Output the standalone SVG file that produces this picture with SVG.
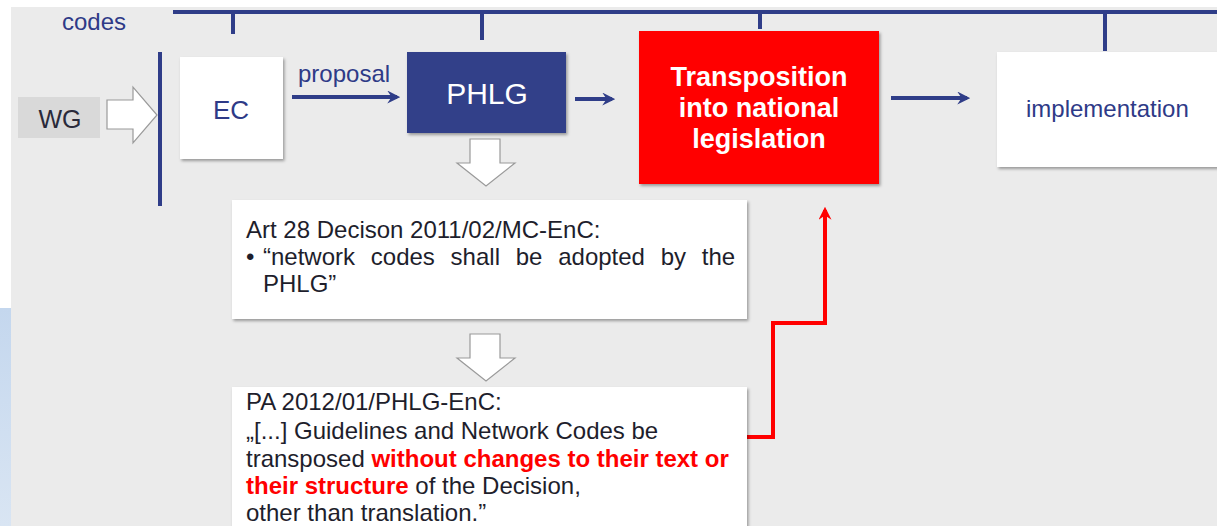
<svg xmlns="http://www.w3.org/2000/svg" width="1217" height="526" viewBox="0 0 1217 526">
<style>
text{font-family:"Liberation Sans",Arial,sans-serif}
.navy{fill:#2e3a87}
.dark{fill:#1e1e2c}
.box{fill:#ffffff;filter:url(#sh)}
.ln{stroke:#2f3d88;stroke-width:4;fill:none}
.blk{fill:#ffffff;stroke:#9a9a9a;stroke-width:1.2}
.red{fill:#ff0000;font-weight:bold}
.tw{fill:#ffffff;font-weight:bold;font-size:27px}
</style>
<defs>
<filter id="sh" x="-5%" y="-5%" width="115%" height="120%">
<feDropShadow dx="1.5" dy="2" stdDeviation="1.5" flood-color="#000" flood-opacity="0.35"/>
</filter>
<linearGradient id="lb" x1="0" y1="0" x2="0" y2="1">
<stop offset="0" stop-color="#c4d7ee"/>
<stop offset="1" stop-color="#d9e5f3"/>
</linearGradient>
<marker id="ah" viewBox="0 0 12 12" refX="9" refY="6" markerWidth="13" markerHeight="13" markerUnits="userSpaceOnUse" orient="auto">
<path d="M0,0 L12,6 L0,12 L4,6 z" fill="#2f3d88"/>
</marker>
<marker id="ahr" viewBox="0 0 12 12" refX="9" refY="6" markerWidth="13" markerHeight="13" markerUnits="userSpaceOnUse" orient="auto">
<path d="M0,0 L12,6 L0,12 L4,6 z" fill="#ff0000"/>
</marker>
</defs>
<rect x="0" y="0" width="1217" height="526" fill="#ffffff"/>
<rect x="0" y="308" width="11" height="218" fill="url(#lb)"/>
<rect x="11" y="7" width="1206" height="519" fill="#ebebeb"/>

<g id="timeline">
<path class="ln" d="M173,12 H1217" stroke-width="3"/>
<path class="ln" d="M233,12 V34 M482,12 V40 M760,12 V29 M1105,12 V51" stroke-width="3"/>
<text x="62" y="30" font-size="24" class="navy">codes</text>
</g>

<g id="connectors">
<path class="ln" d="M160,52 V206"/>
<path class="blk" d="M107,100 H133 V87 L157,115 L133,143 V129 H107 z"/>
<path class="ln" d="M292,97 H397" marker-end="url(#ah)"/>
<text x="298" y="82" font-size="24" class="navy">proposal</text>
<path class="ln" d="M575,99 H612" marker-end="url(#ah)"/>
<path class="ln" d="M891,98 H967" marker-end="url(#ah)"/>
<path class="blk" d="M470,139 H500 V163 H515 L486,186 L457,163 H470 z"/>
<path class="blk" d="M470,334 H500 V358 H515 L486,381 L457,358 H470 z"/>
<path d="M747,437 H773 V323 H825 V210" fill="none" stroke="#ff0000" stroke-width="4" marker-end="url(#ahr)"/>
</g>

<g id="wg">
<rect x="18" y="97" width="82" height="41" fill="#d9d9d9"/>
<text x="60" y="128" font-size="25" text-anchor="middle" fill="#2a2a3a">WG</text>
</g>

<g id="ec">
<rect class="box" x="180" y="57" width="103" height="102"/>
<text x="231" y="119" font-size="26" text-anchor="middle" class="navy">EC</text>
</g>

<g id="phlg">
<rect x="407" y="52" width="159" height="81" fill="#334189" filter="url(#sh)"/>
<text x="487" y="104" font-size="30" text-anchor="middle" fill="#ffffff">PHLG</text>
</g>

<g id="transposition">
<rect x="639" y="31" width="240" height="153" fill="#ff0000" filter="url(#sh)"/>
<text x="759" y="86" class="tw" text-anchor="middle">Transposition</text>
<text x="759" y="117" class="tw" text-anchor="middle">into national</text>
<text x="759" y="148" class="tw" text-anchor="middle">legislation</text>
</g>

<g id="implementation">
<rect class="box" x="997" y="52" width="230" height="115"/>
<text x="1026" y="117" font-size="24" class="navy">implementation</text>
</g>

<g id="art28">
<rect class="box" x="232" y="200" width="515" height="119"/>
<text x="246" y="238" font-size="24" class="dark">Art 28 Decison 2011/02/MC-EnC:</text>
<text x="246" y="265" font-size="24" class="dark">•</text>
<text x="263" y="265" font-size="24" class="dark" word-spacing="9.1">“network codes shall be adopted by the</text>
<text x="263" y="292" font-size="24" class="dark">PHLG”</text>
</g>

<g id="pa">
<rect class="box" x="232" y="387" width="515" height="150"/>
<text x="246" y="410" font-size="24" class="dark">PA 2012/01/PHLG-EnC:</text>
<text x="246" y="439" font-size="24" class="dark">„[...] Guidelines and Network Codes be</text>
<text x="246" y="467" font-size="24" class="dark">transposed <tspan class="red">without changes to their text or</tspan></text>
<text x="246" y="494" font-size="24" class="dark"><tspan class="red">their structure</tspan> of the Decision,</text>
<text x="246" y="521" font-size="24" class="dark">other than translation.”</text>
</g>
</svg>
